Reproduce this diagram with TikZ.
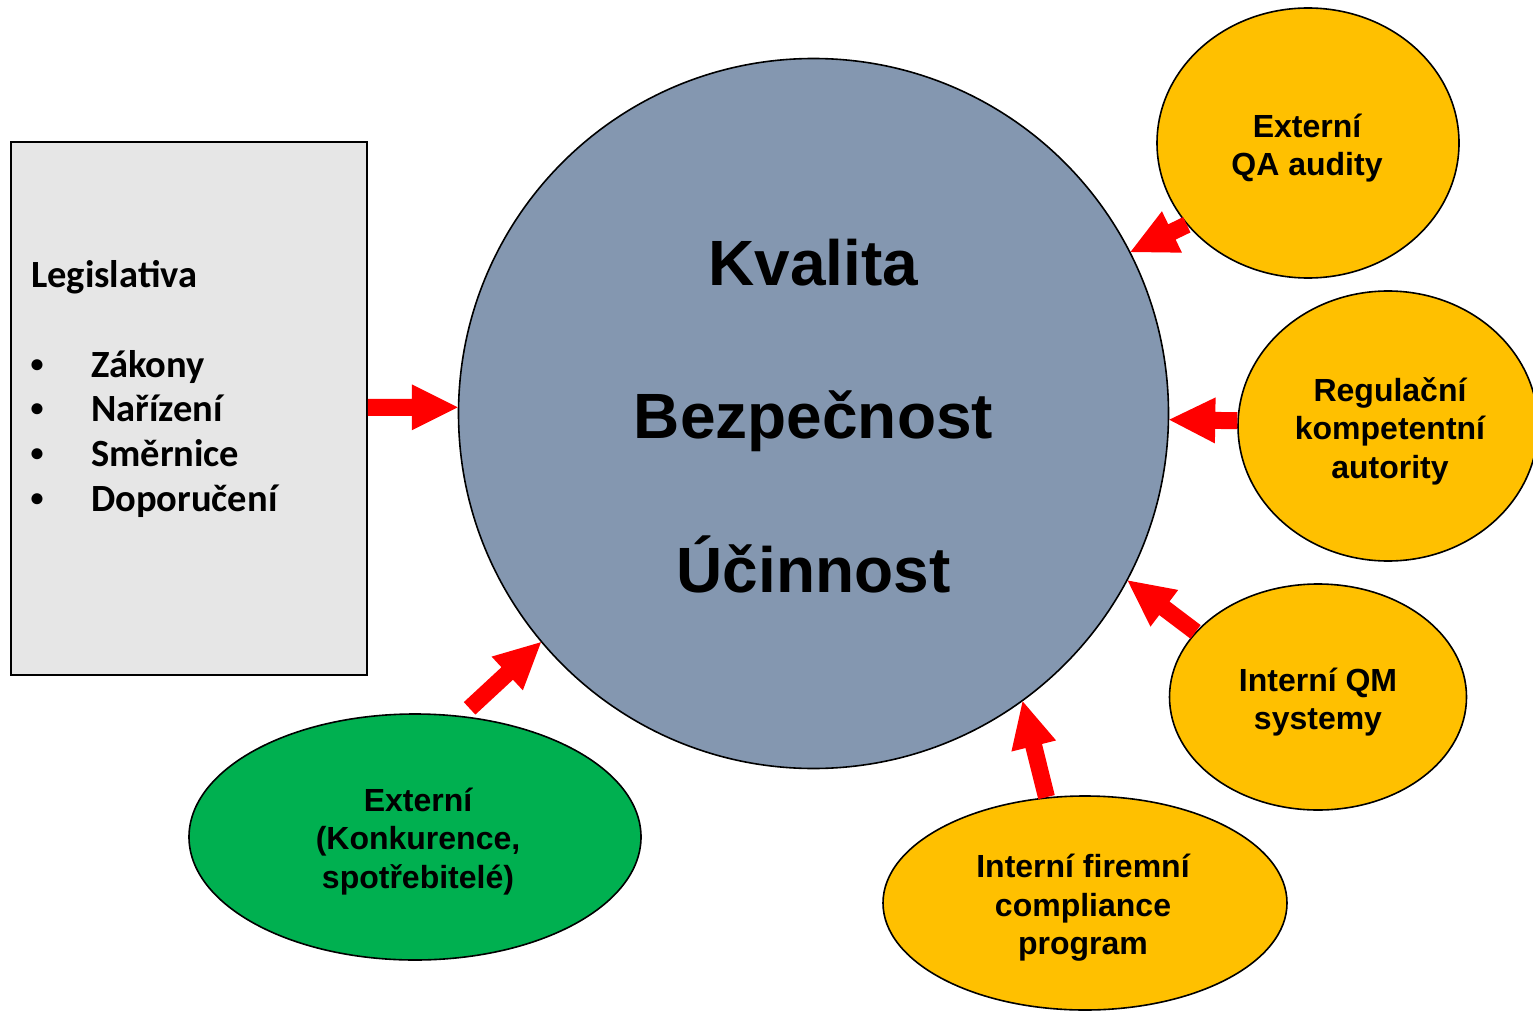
\documentclass[tikz,border=0pt]{standalone}
\usepackage{fontspec}
\setmainfont{Liberation Sans}
\newfontfamily\calib{Carlito}
\usetikzlibrary{shapes.geometric,calc}
\definecolor{goldfill}{HTML}{FFC000}
\definecolor{greenfill}{HTML}{00B050}
\definecolor{corefill}{HTML}{8497B0}
\definecolor{boxfill}{HTML}{E6E6E6}
\definecolor{arrowred}{HTML}{FF0000}
\tikzset{
  outl/.style={draw=black, line width=1.6pt},
  ell/.style={outl, ellipse, inner sep=0pt},
  elltxt/.style={align=center, inner sep=0pt, font=\bfseries\fontsize{32}{38.5}\selectfont},
  bigtxt/.style={font=\bfseries\fontsize{64}{70}\selectfont, anchor=base, inner sep=0pt},
  legtxt/.style={font=\calib\bfseries\fontsize{38.5}{45}\selectfont, anchor=base west, inner sep=0pt},
  bullet/.style={font=\calib\bfseries\fontsize{26}{30}\selectfont, anchor=center, inner sep=0pt},
  arrowfill/.style={fill=arrowred},
}
\newcommand\blockarrow[2]{%
  \coordinate (ba-n) at ($(#2)!46pt!(#1)$);
  \fill[arrowfill] ($(#1)!8.5pt!90:(#2)$) -- ($(ba-n)!8.5pt!-90:(#1)$) -- ($(ba-n)!23pt!-90:(#1)$)
    -- (#2) -- ($(ba-n)!23pt!90:(#1)$) -- ($(ba-n)!8.5pt!90:(#1)$) -- ($(#1)!8.5pt!-90:(#2)$) -- cycle;
}
\begin{document}
\begin{tikzpicture}[x=1pt,y=-1pt]
\useasboundingbox (0,0) rectangle (1533,1011);
\clip (0,0) rectangle (1533,1011);
\fill[white] (0,0) rectangle (1533,1011);
% legislation box
\node[outl, fill=boxfill, rectangle, minimum width=356pt, minimum height=533pt, inner sep=0pt] (leg) at (189,408.5) {};
\node[legtxt] (legt) at (31,287) {Legislativa};
\node[bullet] (b1) at (37,366) {•};
\node[bullet] (b2) at (37,410) {•};
\node[bullet] (b3) at (37,455) {•};
\node[bullet] (b4) at (37,500) {•};
\node[legtxt] (l1) at (91,377) {Zákony};
\node[legtxt] (l2) at (91,421) {Nařízení};
\node[legtxt] (l3) at (91,466) {Směrnice};
\node[legtxt] (l4) at (91,511) {Doporučení};
% core circle
\node[outl, fill=corefill, circle, minimum size=710pt, inner sep=0pt] (core) at (813.5,413.5) {};
\node[bigtxt] (k1) at (813.5,285) {Kvalita};
\node[bigtxt] (k2) at (813.5,438) {Bezpečnost};
\node[bigtxt] (k3) at (813.5,592) {Účinnost};
% ellipses
\node[ell, fill=goldfill, minimum width=302pt, minimum height=270pt] (qa) at (1308,143) {};
\node[elltxt] (qat) at (1307,148) {Externí\\QA audity};
\node[ell, fill=goldfill, minimum width=300pt, minimum height=270pt] (reg) at (1388,426) {};
\node[elltxt] (regt) at (1390,431) {Regulační\\kompetentní\\autority};
\node[ell, fill=goldfill, minimum width=297pt, minimum height=226pt] (qm) at (1318,697) {};
\node[elltxt] (qmt) at (1318,702) {Interní QM\\systemy};
\node[ell, fill=goldfill, minimum width=404pt, minimum height=214pt] (comp) at (1085,903) {};
\node[elltxt] (compt) at (1083,908) {Interní firemní\\compliance\\program};
\node[ell, fill=greenfill, minimum width=452pt, minimum height=246pt] (grn) at (415,837) {};
\node[elltxt] (grnt) at (418,841.5) {Externí\\(Konkurence,\\spotřebitelé)};
% arrows
\coordinate (legout) at (leg.east |- core.179);
\coordinate (grnout) at ($(grn.69)!11pt!(core.220)$);
\blockarrow{legout}{core.179}
\blockarrow{qa.214}{core.27}
\blockarrow{reg.178}{core.-1}
\blockarrow{qm.152}{core.-28}
\blockarrow{comp.110}{core.-54}
\blockarrow{grnout}{core.220}
\end{tikzpicture}
\end{document}
